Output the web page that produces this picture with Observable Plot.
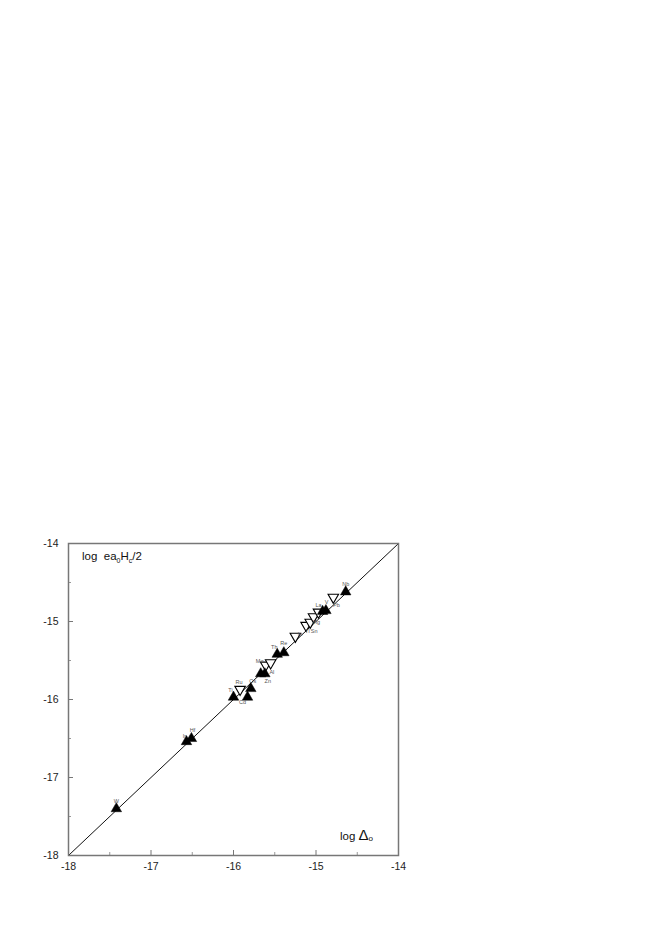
<!DOCTYPE html>
<html>
<head>
<meta charset="utf-8">
<script src="https://cdn.jsdelivr.net/npm/d3@7"></script>
<script src="https://cdn.jsdelivr.net/npm/@observablehq/plot@0.6"></script>
<style>
body { margin: 0; background: #fff; }
#chart { position: relative; width: 661px; height: 936px; font-family: "Liberation Sans", Arial, sans-serif; }
.ttl { position: absolute; font-size: 11.5px; color: #111; white-space: nowrap; line-height: 1; }
.ttl sub { font-size: 7px; vertical-align: -3px; }
</style>
</head>
<body>
<div id="chart">
  <div class="ttl" style="left:82px; top:551px;">log&nbsp;&nbsp;ea<sub>0</sub>H<sub>c</sub>/2</div>
  <div class="ttl" style="left:340px; top:827px;">log <span style="font-size:15px;">&#916;</span><sub style="font-size:8px;vertical-align:-1px;">o</sub></div>
</div>
<script>
// Data
const elements = ["W","Ir","Hf","Ti","Ru","Cd","Os","Zn","Al","Mo","","Th","Re","Tl","In","Sn","Hg","La","V","","Pb","Nb"];
const logDelta = [-17.42,-16.57,-16.51,-16.00,-15.92,-15.83,-15.79,-15.67,-15.62,-15.61,-15.55,-15.47,-15.39,-15.25,-15.12,-15.07,-15.03,-14.97,-14.92,-14.88,-14.79,-14.64];
const logH = [-17.40,-16.54,-16.50,-15.97,-15.87,-15.97,-15.86,-15.67,-15.67,-15.56,-15.53,-15.42,-15.40,-15.19,-15.05,-15.01,-14.94,-14.88,-14.87,-14.86,-14.69,-14.62];
const kind = ["filled","filled","filled","filled","open","filled","filled","filled","filled","open","open","filled","filled","open","open","open","open","open","filled","filled","open","filled"];
const majorTicks = [-18,-17,-16,-15,-14];
const minorTicks = [-17.5,-16.5,-15.5,-14.5];
const lineX = [-18,-14];

// label offsets in pixels (presentation only)
const labelOffset = {
  W:[0,-7], Ir:[-2,-5], Hf:[1,-8], Ti:[-3,-7], Ru:[-1,-7], Cd:[-5,5], Os:[2,-7],
  Zn:[7,7], Al:[7,-2], Mo:[-6,-4], Th:[-3,-7], Re:[0,-9], Tl:[12,-5], In:[-6,9],
  Sn:[4,9], Hg:[3,5], La:[0,-7], V:[4,-9], Pb:[3,8], Nb:[0,-8]
};

const W = 661, H = 936;
const mL = 68, mR = W - 398, mT = 543, mB = H - 855;
const frameH = H - mT - mB, frameW = W - mL - mR;
const pxX = frameW / 4, pxY = frameH / 4;

const pts = elements.map((e,i) => ({name:e, x:logDelta[i], y:logH[i], kind:kind[i]}));
const lbl = pts.filter(d => d.name).map(d => ({name:d.name,
  x: d.x + (labelOffset[d.name]||[0,0])[0] / pxX,
  y: d.y - (labelOffset[d.name]||[0,0])[1] / pxY}));

const plot = Plot.plot({
  width: W, height: H,
  marginLeft: mL, marginRight: mR, marginTop: mT, marginBottom: mB,
  style: {fontFamily: "Liberation Sans, Arial, sans-serif", background: "transparent"},
  x: {domain: [-18,-14]},
  y: {domain: [-18,-14]},
  marks: [
    Plot.axisX(majorTicks, {tickSize: 0, tickPadding: 7, fontSize: 10.5, fill: "#222", label: null, tickFormat: d => "-" + Math.abs(d)}),
    Plot.axisY(majorTicks, {tickSize: 0, tickPadding: 10, fontSize: 10.5, fill: "#222", label: null, tickFormat: d => "-" + Math.abs(d)}),
    Plot.tickX(majorTicks, {x: d => d, insetTop: frameH - 5, stroke: "#777", strokeWidth: 1}),
    Plot.tickX(minorTicks, {x: d => d, insetTop: frameH - 3, stroke: "#999", strokeWidth: 1}),
    Plot.tickY(majorTicks, {y: d => d, insetRight: frameW - 5, stroke: "#777", strokeWidth: 1}),
    Plot.tickY(minorTicks, {y: d => d, insetRight: frameW - 3, stroke: "#999", strokeWidth: 1}),
    Plot.line(lineX, {x: d => d, y: d => d, stroke: "#111", strokeWidth: 1}),
    Plot.dot(pts.filter(d => d.kind === "open"), {x:"x", y:"y", symbol:"triangle", rotate:180, r:3.9, stroke:"#000", strokeWidth:1.1, fill:"#fff"}),
    Plot.dot(pts.filter(d => d.kind === "filled"), {x:"x", y:"y", symbol:"triangle", r:3.9, fill:"#000", stroke:"#000", strokeWidth:0.5}),
    Plot.text(lbl, {x:"x", y:"y", text:"name", fontSize: 5.5, fill: "#555"}),
    Plot.frame({stroke: "#777", strokeWidth: 1.5})
  ]
});
plot.style.position = "absolute";
plot.style.left = "0px";
plot.style.top = "0px";
document.getElementById("chart").prepend(plot);
</script>
</body>
</html>
